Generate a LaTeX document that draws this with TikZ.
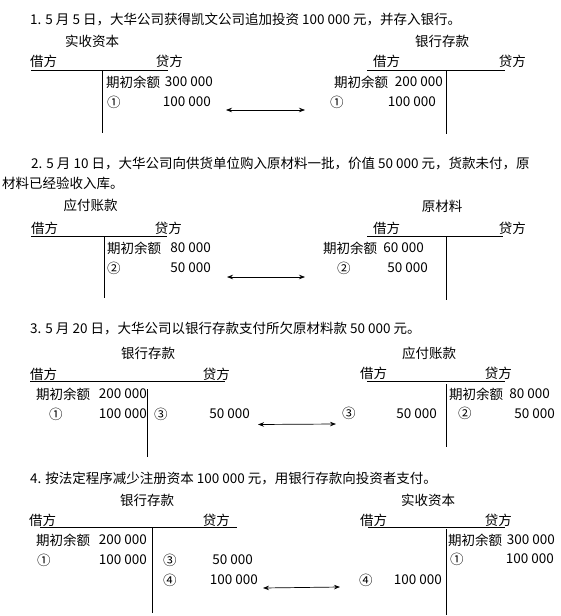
\documentclass[tikz,border=0pt]{standalone}
\usepackage{fontspec}
\setmainfont{Noto Sans CJK SC}
\usetikzlibrary{arrows.meta}

\begin{document}
\begin{tikzpicture}[x=1pt,y=-1pt,
  txt/.style={inner sep=0pt,font=\fontsize{13.5}{16}\selectfont},
  lft/.style={txt,anchor=west},
  rgt/.style={txt,anchor=east},
  acct/.style={txt,anchor=center},
  tline/.style={black,line width=0.8pt},
  link/.style={black,line width=0.7pt,{Stealth[length=6pt,width=4.5pt]}-{Stealth[length=6pt,width=4.5pt]}}]
\useasboundingbox (0,0) rectangle (560,616);
% 1
\node[lft] (t1) at (30,20) {1. 5 月 5 日，大华公司获得凯文公司追加投资 100 000 元，并存入银行。};
\node[acct] (n1l) at (92,41.5) {实收资本};
\node[acct] (n1r) at (442,41.5) {银行存款};
\node[lft] (d1l) at (30,61.5) {借方};
\node[rgt] (c1l) at (183,61.5) {贷方};
\draw[tline] (31,70) -- (168,70);
\draw[tline] (102,70) -- (102,133);
\node[lft] (b1l) at (106,82) {期初余额};
\node[rgt] (v1l) at (213,82) {300 000};
\node[lft] (e1l) at (107,102) {①};
\node[rgt] (a1l) at (211,102) {100 000};
\node[lft] (d1r) at (373,61.5) {借方};
\node[rgt] (c1r) at (526,61.5) {贷方};
\draw[tline] (367,70) -- (505,70);
\draw[tline] (446,70) -- (446,134);
\node[lft] (b1r) at (334,82) {期初余额};
\node[rgt] (v1r) at (443,82) {200 000};
\node[lft] (e1r) at (330,102) {①};
\node[rgt] (a1r) at (436,102) {100 000};
\coordinate (p1l) at (226,110);
\coordinate (p1r) at (305,110);
\draw[link] (p1l) -- (p1r);
% 2
\node[lft] (t2) at (31,164) {2. 5 月 10 日，大华公司向供货单位购入原材料一批，价值 50 000 元，货款未付，原};
\node[lft] (t2b) at (2,183) {材料已经验收入库。};
\node[acct] (n2l) at (90.5,205) {应付账款};
\node[acct] (n2r) at (442,206) {原材料};
\node[lft] (d2l) at (31,228) {借方};
\node[rgt] (c2l) at (182,228) {贷方};
\draw[tline] (31,236) -- (167,236);
\draw[tline] (104,236) -- (104,298);
\node[lft] (b2l) at (107,248) {期初余额};
\node[rgt] (v2l) at (211,248) {80 000};
\node[lft] (e2l) at (107,268) {②};
\node[rgt] (a2l) at (211,268) {50 000};
\node[lft] (d2r) at (373,228) {借方};
\node[rgt] (c2r) at (526,228) {贷方};
\draw[tline] (367,236) -- (503,236);
\draw[tline] (446,236) -- (446,300);
\node[lft] (b2r) at (323,248) {期初余额};
\node[rgt] (v2r) at (424,248) {60 000};
\node[lft] (e2r) at (337,268) {②};
\node[rgt] (a2r) at (428,268) {50 000};
\coordinate (p2l) at (227,277);
\coordinate (p2r) at (305,277);
\draw[link] (p2l) -- (p2r);
% 3
\node[lft] (t3) at (30,328) {3. 5 月 20 日，大华公司以银行存款支付所欠原材料款 50 000 元。};
\node[acct] (n3l) at (148,353) {银行存款};
\node[acct] (n3r) at (429,353) {应付账款};
\node[lft] (d3l) at (30,374) {借方};
\node[rgt] (c3l) at (230,374) {贷方};
\draw[tline] (30,381.5) -- (225,381.5);
\draw[tline] (147,389) -- (147,457);
\node[lft] (b3l) at (36,394) {期初余额};
\node[rgt] (v3l) at (147,394) {200 000};
\node[lft] (e3l) at (49,414) {①};
\node[rgt] (a3l) at (147,414) {100 000};
\node[lft] (f3l) at (154,414) {③};
\node[rgt] (g3l) at (250,414) {50 000};
\node[lft] (d3r) at (360,373.5) {借方};
\node[rgt] (c3r) at (512,373.5) {贷方};
\draw[tline] (367,381.5) -- (505,381.5);
\draw[tline] (446,384) -- (446,447);
\node[lft] (b3r) at (449,394) {期初余额};
\node[rgt] (v3r) at (550,394) {80 000};
\node[lft] (e3r) at (342,413.5) {③};
\node[rgt] (a3r) at (437,413.5) {50 000};
\node[lft] (f3r) at (458,413.5) {②};
\node[rgt] (g3r) at (555,413.5) {50 000};
\coordinate (p3l) at (258,424.5);
\coordinate (p3r) at (336,424);
\draw[link] (p3l) -- (p3r);
% 4
\node[lft] (t4) at (30,478) {4. 按法定程序减少注册资本 100 000 元，用银行存款向投资者支付。};
\node[acct] (n4l) at (147,500) {银行存款};
\node[acct] (n4r) at (428,500) {实收资本};
\node[lft] (d4l) at (29,520) {借方};
\node[rgt] (c4l) at (230,520) {贷方};
\draw[tline] (40,527) -- (237,527);
\draw[tline] (152,527) -- (152,613);
\node[lft] (b4l) at (36,540) {期初余额};
\node[rgt] (v4l) at (147,540) {200 000};
\node[lft] (e4l) at (37,560) {①};
\node[rgt] (a4l) at (147,560) {100 000};
\node[lft] (f4l) at (163,560) {③};
\node[rgt] (g4l) at (253,560) {50 000};
\node[lft] (h4l) at (163,580) {④};
\node[rgt] (k4l) at (258,580) {100 000};
\node[lft] (d4r) at (360,520) {借方};
\node[rgt] (c4r) at (512,520) {贷方};
\draw[tline] (368,527) -- (505,527);
\draw[tline] (446,529) -- (446,615);
\node[lft] (b4r) at (448,540) {期初余额};
\node[rgt] (v4r) at (555,540) {300 000};
\node[lft] (e4r) at (450,559) {①};
\node[rgt] (a4r) at (554,559) {100 000};
\node[lft] (h4r) at (359,580) {④};
\node[rgt] (k4r) at (442,580) {100 000};
\coordinate (p4l) at (263,588);
\coordinate (p4r) at (340,587);
\draw[link] (p4l) -- (p4r);
\end{tikzpicture}
\end{document}
